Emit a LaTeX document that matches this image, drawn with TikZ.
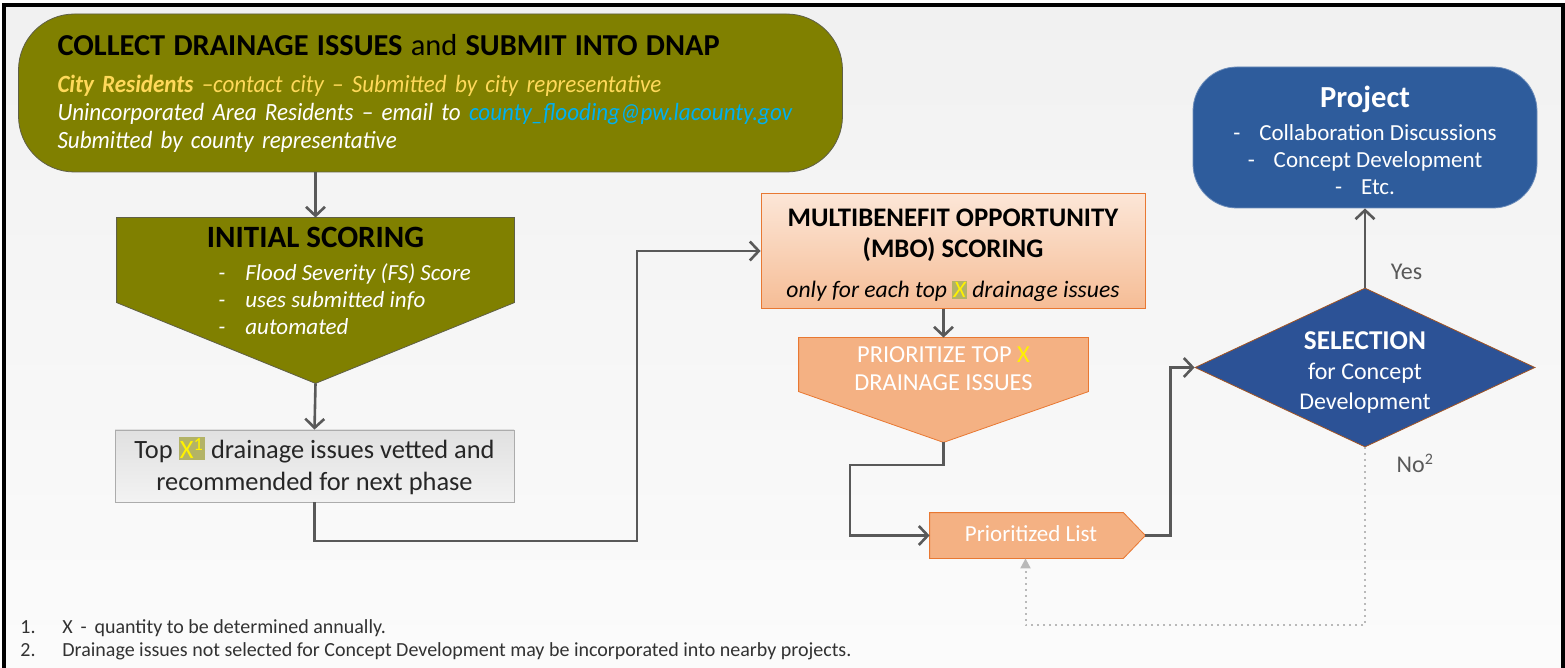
\documentclass[tikz,border=0pt]{standalone}
\usepackage{fontspec}
\setmainfont{Carlito}
\newfontfamily\narrowfont[FakeStretch=0.93]{Carlito}
\usetikzlibrary{shapes.geometric,arrows.meta,calc}
\definecolor{olivefill}{RGB}{128,128,0}
\definecolor{olivedraw}{RGB}{95,95,70}
\definecolor{cityyellow}{RGB}{255,217,90}
\definecolor{mailcyan}{RGB}{0,176,240}
\definecolor{peachlight}{RGB}{252,230,215}
\definecolor{peach}{RGB}{244,177,131}
\definecolor{peachdraw}{RGB}{232,120,50}
\definecolor{projblue}{RGB}{46,92,156}
\definecolor{selblue}{RGB}{44,82,150}
\definecolor{linegray}{RGB}{89,89,89}
\definecolor{dotgray}{RGB}{185,185,185}
\definecolor{notegray}{RGB}{50,50,50}
\newcommand{\markx}[1]{{\setlength{\fboxsep}{0.6pt}\colorbox{olivefill!60}{\textcolor{yellow}{#1}}}}
\newcommand{\dashitem}[2][13.5pt]{\makebox[#1][l]{-}#2}
\tikzset{
    collect-box/.style = {rectangle, rounded corners=28pt, fill=olivefill, draw=olivedraw, thin, text width=373pt, inner xsep=19.5pt, minimum height=79pt, align=left, text=white, font=\narrowfont\fontsize{12.4}{14}\selectfont\itshape},
    frame-node/.style = {rectangle, inner sep=0pt, draw=none},
    olive-shape/.style = {fill=olivefill, draw=olivedraw, thin},
    peach-shape/.style = {fill=peach, draw=peachdraw, thin},
    vetted-box/.style = {rectangle, top color=gray!24, bottom color=gray!10, draw=gray!65, thin, minimum width=199.5pt, minimum height=36pt, align=center, text=black!85, font=\fontsize{13.2}{16}\selectfont},
    mbo-box/.style = {rectangle, top color=peachlight, bottom color=peach!85, draw=peachdraw, thin, minimum width=192pt, minimum height=57pt, align=center, font=\fontsize{13.4}{15.5}\selectfont},
    project-box/.style = {rectangle, rounded corners=22pt, fill=projblue, draw=projblue!70!white, thin, minimum width=172pt, minimum height=70.5pt, align=center, text=white, font=\fontsize{11.5}{13.5}\selectfont},
    select-box/.style = {diamond, aspect=2.14, fill=selblue, draw=peachdraw!70!black, thin, minimum width=170pt, minimum height=79.5pt, inner sep=0pt},
    flow-arrow/.style = {draw=linegray, line width=1.3pt, -{Straight Barb[length=4.5pt,width=9.5pt]}},
    no-arrow/.style = {draw=dotgray, line width=1pt, dotted, -{Triangle[length=5pt,width=5pt]}},
    label-text/.style = {text=linegray, font=\fontsize{12}{14}\selectfont},
    note-text/.style = {anchor=west, inner sep=0pt, text=notegray, font=\fontsize{10}{12}\selectfont},
}

\begin{document}
\begin{tikzpicture}[x=0.5pt, y=-0.5pt]
\useasboundingbox (0,0) rectangle (1565,668);
\shade[top color=gray!11, bottom color=gray!3] (4,5) rectangle (1563,668);
\draw[line width=1.6pt] (4,668) -- (4,5) -- (1563,5) -- (1563,668);

\node[collect-box] (collect) at (430.5,93) {%
    {\color{black}\rmfamily\upshape\fontsize{15.2}{14}\selectfont\textbf{COLLECT DRAINAGE ISSUES} and \textbf{SUBMIT INTO DNAP}}\\[4.5pt]
    {\color{cityyellow}\textbf{City Residents} –contact city – Submitted by city representative}\\
    Unincorporated Area Residents – email to {\color{mailcyan}county\_flooding@pw.lacounty.gov}\\
    Submitted by county representative};

\node[frame-node, minimum width=198.5pt, minimum height=82.5pt] (init) at (315.5,300.5) {};
\filldraw[olive-shape] (init.north west) -- (init.north east) -- ++(0,85) -- (init.south) -- ($(init.north west)+(0,85)$) -- cycle;
\node[font=\fontsize{15.5}{17}\selectfont\bfseries] (init-title) at (315.5,237) {INITIAL SCORING};
\node[anchor=north west, align=left, inner sep=0pt, text=white, font=\fontsize{11.5}{13.5}\selectfont\itshape] (init-list) at (218,263) {\dashitem{Flood Severity (FS) Score}\\ \dashitem{uses submitted info}\\ \dashitem{automated}};

\node[vetted-box] (vetted) at (314.5,466) {Top \markx{X\textsuperscript{1}} drainage issues vetted and\\ recommended for next phase};

\node[mbo-box] (mbo) at (953,251) {\rule{0pt}{13pt}\textbf{MULTIBENEFIT OPPORTUNITY}\\ \textbf{(MBO) SCORING}\\[4.5pt] {\fontsize{11.8}{14}\selectfont\itshape only for each top \markx{X} drainage issues}};

\node[frame-node, minimum width=144.5pt, minimum height=52pt] (prior) at (943.5,390) {};
\filldraw[peach-shape] (prior.north west) -- (prior.north east) -- ++(0,54) -- (prior.south) -- ($(prior.north west)+(0,54)$) -- cycle;
\node[align=center, text=white, font=\fontsize{12.2}{14}\selectfont] (prior-text) at (943.5,369) {PRIORITIZE TOP \textcolor{yellow}{X}\\ DRAINAGE ISSUES};

\node[frame-node, minimum width=107.5pt, minimum height=22.5pt] (plist) at (1037.5,535.5) {};
\filldraw[peach-shape] (plist.north west) -- ($(plist.north east)+(-22,0)$) -- (plist.east) -- ($(plist.south east)+(-22,0)$) -- (plist.south west) -- cycle;
\node[text=white, font=\fontsize{11.5}{14}\selectfont] (plist-text) at (1031,534) {Prioritized List};

\node[select-box] (select) at (1365,367.5) {};
\node[align=center, text=white, font=\fontsize{12}{15}\selectfont] (select-text) at (1365,373) {{\fontsize{13.6}{15}\selectfont\textbf{SELECTION}}\\ for Concept\\ Development};

\node[project-box] (project) at (1365,137.5) {{\fontsize{15.3}{16}\selectfont\rule{0pt}{13.5pt}\textbf{Project}}\\[3pt] \dashitem[13pt]{Collaboration Discussions}\\ \dashitem[13pt]{Concept Development}\\ \dashitem[13pt]{Etc.}};

\draw[flow-arrow] (collect.south -| init.north) -- (init.north);
\draw[flow-arrow] (init.south) -- (vetted.north);
\draw[flow-arrow] (vetted.south) |- (637,541) |- (mbo.west);
\draw[flow-arrow] (mbo.south -| prior.north) -- (prior.north);
\draw[flow-arrow] (prior.south) |- (850,465) |- (plist.west);
\draw[flow-arrow] (plist.east) -- ++(25,0) |- (select.west);
\draw[flow-arrow] (select.north) -- (project.south) node[pos=0.2, right=9pt, label-text] {Yes};
\draw[no-arrow] (select.south) -- ++(0,178) node[pos=0.09, right=12pt, label-text] {No\textsuperscript{2}} -| ([xshift=-6pt]plist.south);

\node[note-text] (note-one) at (20,628) {\makebox[21pt][l]{1.}X\, -\, quantity to be determined annually.};
\node[note-text] (note-two) at (20,651) {\makebox[21pt][l]{2.}Drainage issues not selected for Concept Development may be incorporated into nearby projects.};
\end{tikzpicture}
\end{document}
